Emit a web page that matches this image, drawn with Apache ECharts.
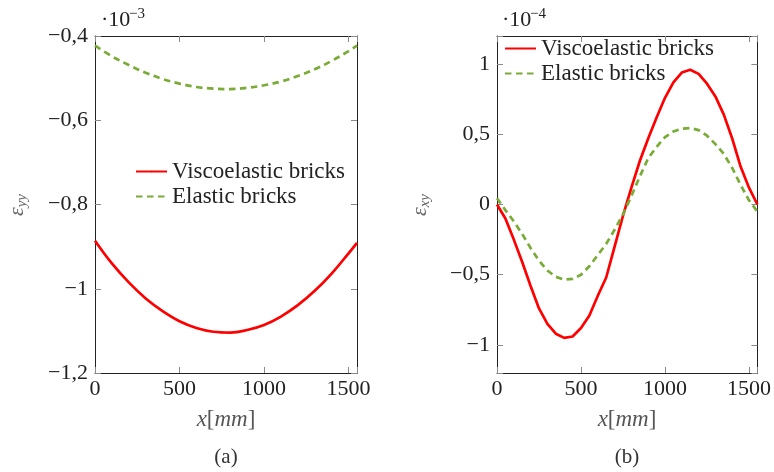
<!DOCTYPE html>
<html>
<head>
<meta charset="utf-8">
<script src="https://cdn.jsdelivr.net/npm/echarts@6/dist/echarts.min.js"></script>
<style>
html,body{margin:0;padding:0;background:#fff;}
#c{width:774px;height:472px;}
</style>
</head>
<body>
<div id="c"></div>
<script>
// ---- data (strain values, scaled) ----
const xA = [0,100,200,300,400,500,600,700,800,900,1000,1100,1200,1300,1400,1500,1550];
const viscoA = [-0.886,-0.940,-0.985,-1.023,-1.053,-1.077,-1.093,-1.102,-1.104,-1.098,-1.086,-1.066,-1.039,-1.005,-0.964,-0.916,-0.891];
const elasticA = [-0.423,-0.448,-0.469,-0.487,-0.502,-0.513,-0.521,-0.525,-0.526,-0.523,-0.517,-0.508,-0.495,-0.479,-0.459,-0.436,-0.423];

const xB = [0,50,100,150,200,250,300,350,400,450,500,550,600,650,700,750,800,850,900,950,1000,1050,1100,1150,1200,1250,1300,1350,1400,1450,1500,1550];
const viscoB = [0,-0.10,-0.25,-0.41,-0.58,-0.74,-0.85,-0.92,-0.95,-0.94,-0.88,-0.79,-0.65,-0.52,-0.30,-0.08,0.12,0.31,0.47,0.62,0.76,0.87,0.94,0.96,0.93,0.86,0.77,0.64,0.47,0.27,0.12,0.0];
const elasticB = [0.045,-0.04,-0.12,-0.21,-0.31,-0.40,-0.47,-0.515,-0.535,-0.53,-0.50,-0.44,-0.36,-0.28,-0.18,-0.07,0.06,0.20,0.33,0.41,0.48,0.52,0.54,0.545,0.53,0.49,0.43,0.36,0.26,0.14,0.03,-0.05];

const xTicks = [0,500,1000,1500];
const yTicksA = [-1.2,-1,-0.8,-0.6,-0.4];
const yTicksB = [-1,-0.5,0,0.5,1];
const seriesNames = ['Viscoelastic bricks','Elastic bricks'];

// ---- helpers ----
const FONT = '"Liberation Serif", "DejaVu Serif", serif';
const RED = '#ff0000', GREEN = '#79ab36';
function fmt(v){ return String(+(+v).toFixed(3)).replace('-', '\u2212').replace('.', ','); }
function onTick(v, ticks){ return ticks.some(t => Math.abs(t - v) < 1e-6); }
function pairs(xs, ys){ return xs.map((x,i)=>[x, ys[i]]); }

const tickStyle = {show:true, inside:true, length:6, lineStyle:{color:'#8a8a8a', width:1}};
const lineStyleAx = {show:true, onZero:false, lineStyle:{color:'#222', width:1}};
const labelStyle = {color:'#222', fontFamily:FONT, fontSize:22};

function xAx(grid, pos, labels){
  return {type:'value', gridIndex:grid, position:pos, min:0, max:1550, interval:500,
    axisLine:lineStyleAx, splitLine:{show:false}, axisTick:tickStyle,
    axisLabel: labels ? Object.assign({margin:5, formatter:v=>onTick(v,xTicks)?String(v):''}, labelStyle) : {show:false}};
}
function yAx(grid, pos, labels, extra, ticks){
  return Object.assign({type:'value', gridIndex:grid, position:pos,
    axisLine:lineStyleAx, splitLine:{show:false}, axisTick:tickStyle,
    axisLabel: labels ? Object.assign({margin:7, formatter:v=>onTick(v,ticks)?fmt(v):''}, labelStyle) : {show:false}}, extra);
}

const yA = {min:-1.2, max:-0.4, interval:0.2};
const yB = {min:-1.2, max:1.2, minInterval:0.5, maxInterval:0.5};

function legendFor(left, top){
  return {left:left, top:top, orient:'vertical', padding:0, itemGap:2, itemWidth:31, itemHeight:2,
    data:seriesNames, selectedMode:false,
    textStyle:{fontFamily:FONT, fontSize:23, color:'#222'}};
}
function scaleLabel(x, exp){
  return [
    {type:'text', x:x, y:20, style:{text:'\u00b710', align:'left', verticalAlign:'middle', fontFamily:FONT, fontSize:22, fill:'#222'}},
    {type:'text', x:x+28, y:14, style:{text:exp, align:'left', verticalAlign:'middle', fontFamily:FONT, fontSize:15, fill:'#222'}}
  ];
}

const chart = echarts.init(document.getElementById('c'), null, {renderer:'canvas'});
chart.setOption({
  animation:false,
  backgroundColor:'#fff',
  grid:[
    {left:95, top:36, width:262, height:337},
    {left:497, top:36, width:262, height:337}
  ],
  xAxis:[ xAx(0,'bottom',true), xAx(0,'top',false), xAx(1,'bottom',true), xAx(1,'top',false) ],
  yAxis:[ yAx(0,'left',true,yA,yTicksA), yAx(0,'right',false,yA,yTicksA),
          yAx(1,'left',true,yB,yTicksB), yAx(1,'right',false,yB,yTicksB) ],
  legend:[ legendFor(135,160), legendFor(504,37) ],
  series:[
    {name:seriesNames[0], type:'line', xAxisIndex:0, yAxisIndex:0, data:pairs(xA,viscoA), smooth:0.4, symbol:'none',
      lineStyle:{color:RED, width:2.7}, itemStyle:{color:RED}},
    {name:seriesNames[1], type:'line', xAxisIndex:0, yAxisIndex:0, data:pairs(xA,elasticA), smooth:0.4, symbol:'none',
      lineStyle:{color:GREEN, width:2.7, type:[6.5,4.5]}, itemStyle:{color:GREEN}},
    {name:seriesNames[0], type:'line', xAxisIndex:2, yAxisIndex:2, data:pairs(xB,viscoB), symbol:'none',
      lineStyle:{color:RED, width:2.7}, itemStyle:{color:RED}},
    {name:seriesNames[1], type:'line', xAxisIndex:2, yAxisIndex:2, data:pairs(xB,elasticB), symbol:'none',
      lineStyle:{color:GREEN, width:2.7, type:[6.5,4.5]}, itemStyle:{color:GREEN}}
  ],
  graphic:[].concat(scaleLabel(101,'\u22123'), scaleLabel(502,'\u22124'), [
    // x axis titles
    {type:'text', x:226, y:420, style:{text:'{i|x}{n|[}{i|mm}{n|]}', align:'center', verticalAlign:'middle', rich:{
      i:{fontFamily:FONT, fontSize:23, fontStyle:'italic', fill:'#555'}, n:{fontFamily:FONT, fontSize:23, fill:'#555'}}}},
    {type:'text', x:627, y:420, style:{text:'{i|x}{n|[}{i|mm}{n|]}', align:'center', verticalAlign:'middle', rich:{
      i:{fontFamily:FONT, fontSize:23, fontStyle:'italic', fill:'#555'}, n:{fontFamily:FONT, fontSize:23, fill:'#555'}}}},
    // subfigure labels
    {type:'text', x:226, y:457, style:{text:'(a)', align:'center', verticalAlign:'middle', fontFamily:FONT, fontSize:21, fill:'#333'}},
    {type:'text', x:627, y:457, style:{text:'(b)', align:'center', verticalAlign:'middle', fontFamily:FONT, fontSize:21, fill:'#333'}},
    // y axis titles (rotated)
    {type:'text', x:17, y:205, rotation:Math.PI/2, style:{text:'{e|\u03b5}{s|yy}', align:'center', verticalAlign:'middle', rich:{
      e:{fontFamily:FONT, fontSize:22, fontStyle:'italic', fill:'#666', lineHeight:26},
      s:{fontFamily:FONT, fontSize:15, fontStyle:'italic', fill:'#666', lineHeight:14, verticalAlign:'bottom'}}}},
    {type:'text', x:420, y:205, rotation:Math.PI/2, style:{text:'{e|\u03b5}{s|xy}', align:'center', verticalAlign:'middle', rich:{
      e:{fontFamily:FONT, fontSize:22, fontStyle:'italic', fill:'#666', lineHeight:26},
      s:{fontFamily:FONT, fontSize:15, fontStyle:'italic', fill:'#666', lineHeight:14, verticalAlign:'bottom'}}}}
  ])
});
</script>
</body>
</html>
